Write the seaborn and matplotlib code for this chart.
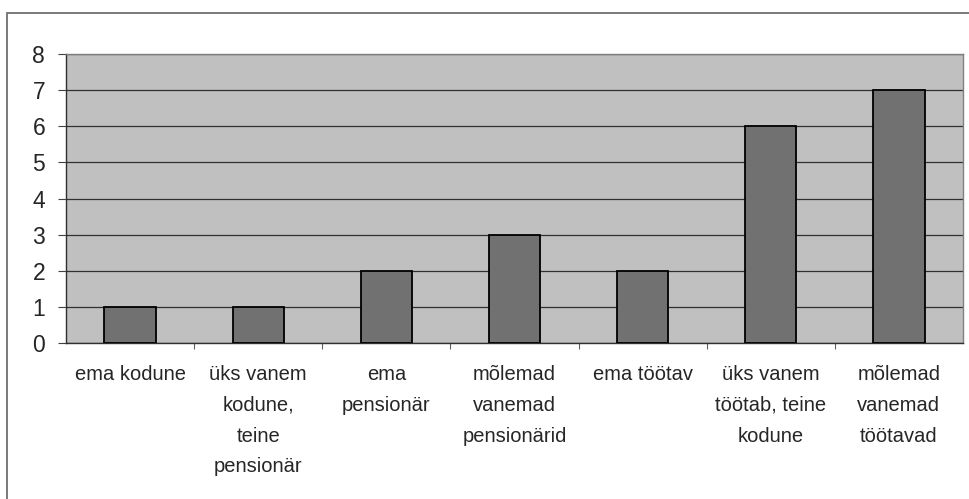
import matplotlib
matplotlib.use('Agg')
import matplotlib.pyplot as plt
import seaborn as sns
import pandas as pd
from matplotlib.patches import Rectangle

# categories and counts
categories = ['ema kodune',
              'üks vanem\nkodune,\nteine\npensionär',
              'ema\npensionär',
              'mõlemad\nvanemad\npensionärid',
              'ema töötav',
              'üks vanem\ntöötab, teine\nkodune',
              'mõlemad\nvanemad\ntöötavad']
counts = [1, 1, 2, 3, 2, 6, 7]
y_ticks = [0, 1, 2, 3, 4, 5, 6, 7, 8]

df = pd.DataFrame({'cat': categories, 'n': counts})

sns.set_style('white')
plt.rcParams['font.family'] = ['Liberation Sans', 'DejaVu Sans']

fig = plt.figure(figsize=(9.7, 4.99), dpi=100)
ax = fig.add_axes([66 / 970, 1 - 343 / 499, (963 - 66) / 970, (343 - 54) / 499])
ax.set_facecolor('#c0c0c0')

sns.barplot(data=df, x='cat', y='n', color='#717171', width=0.4,
            edgecolor='black', linewidth=1.3, saturation=1, ax=ax, zorder=3)

ax.set_xlim(-0.5, len(categories) - 0.5)
ax.set_ylim(0, 8)
ax.set_yticks(y_ticks)
ax.yaxis.grid(True, color='#303030', linewidth=0.9, zorder=1)
ax.set_axisbelow(True)
ax.set_xlabel('')
ax.set_ylabel('')

ax.tick_params(axis='y', labelsize=16.5, length=6, width=0.8, direction='out',
               pad=9, left=True, color='#404040')
ax.tick_params(axis='x', which='major', labelsize=14.5, length=0, pad=16)
ax.set_xticks([i + 0.5 for i in range(len(categories) - 1)], minor=True)
ax.tick_params(axis='x', which='minor', length=4, width=0.8, direction='out',
               bottom=True, color='#606060')
for lab in ax.get_xticklabels():
    lab.set_linespacing(1.78)
    lab.set_verticalalignment('top')

for side in ['left', 'bottom']:
    ax.spines[side].set_color('#303030')
    ax.spines[side].set_linewidth(1.0)
for side in ['top', 'right']:
    ax.spines[side].set_color('#808080')
    ax.spines[side].set_linewidth(1.0)

# outer chart border (runs off the right and bottom edges)
fig.patches.append(Rectangle((7 / 970, -0.1), 1.1, 1 - 13 / 499 + 0.1,
                             transform=fig.transFigure, fill=False,
                             edgecolor='#707070', linewidth=1.3))

fig.savefig('out.png', dpi=100)
